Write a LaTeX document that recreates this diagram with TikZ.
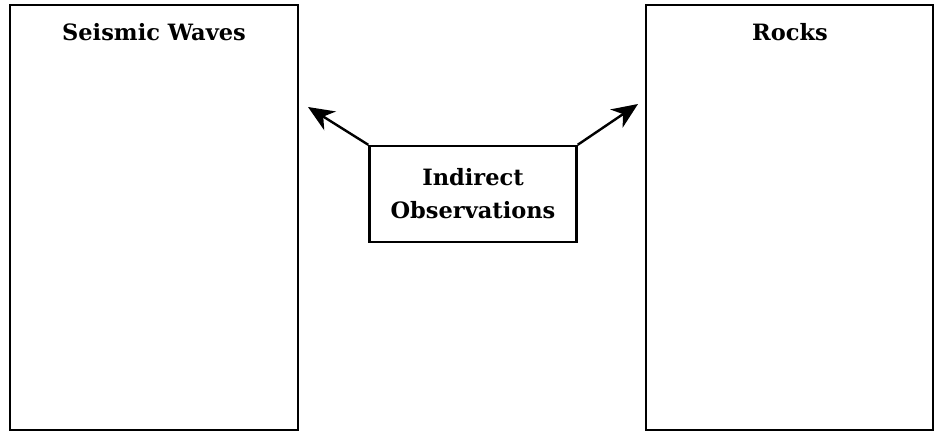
\documentclass[tikz,border=0pt]{standalone}
\usepackage{fontspec}
\setmainfont{DejaVu Serif}
\usetikzlibrary{arrows.meta}
\begin{document}
\begin{tikzpicture}[x=1pt,y=-1pt,
  panel/.style={draw=black,line width=2.4pt},
  lbl/.style={font=\fontsize{22.5}{26}\selectfont\bfseries,align=center},
  conn/.style={line width=2.4pt,-{Stealth[length=26pt,width=22pt,inset=8pt]}}]
\useasboundingbox (0,0) rectangle (940,434);
\draw[panel] (10,5) rectangle (298,430);
\draw[panel] (646,5) rectangle (933,430);
\node[lbl] (sw) at (154,32) {Seismic Waves};
\node[lbl] (rk) at (790,32) {Rocks};
\node[panel,minimum width=207pt,minimum height=96pt,inner sep=0pt] (io) at (473,194) {};
\node[lbl,font=\fontsize{22.5}{33}\selectfont\bfseries] (iot) at (io) {Indirect\\Observations};
\coordinate (lt) at (308,107);
\coordinate (rt) at (638,104);
\draw[conn] (io.north west) -- (lt);
\draw[conn] (io.north east) -- (rt);
\end{tikzpicture}
\end{document}
